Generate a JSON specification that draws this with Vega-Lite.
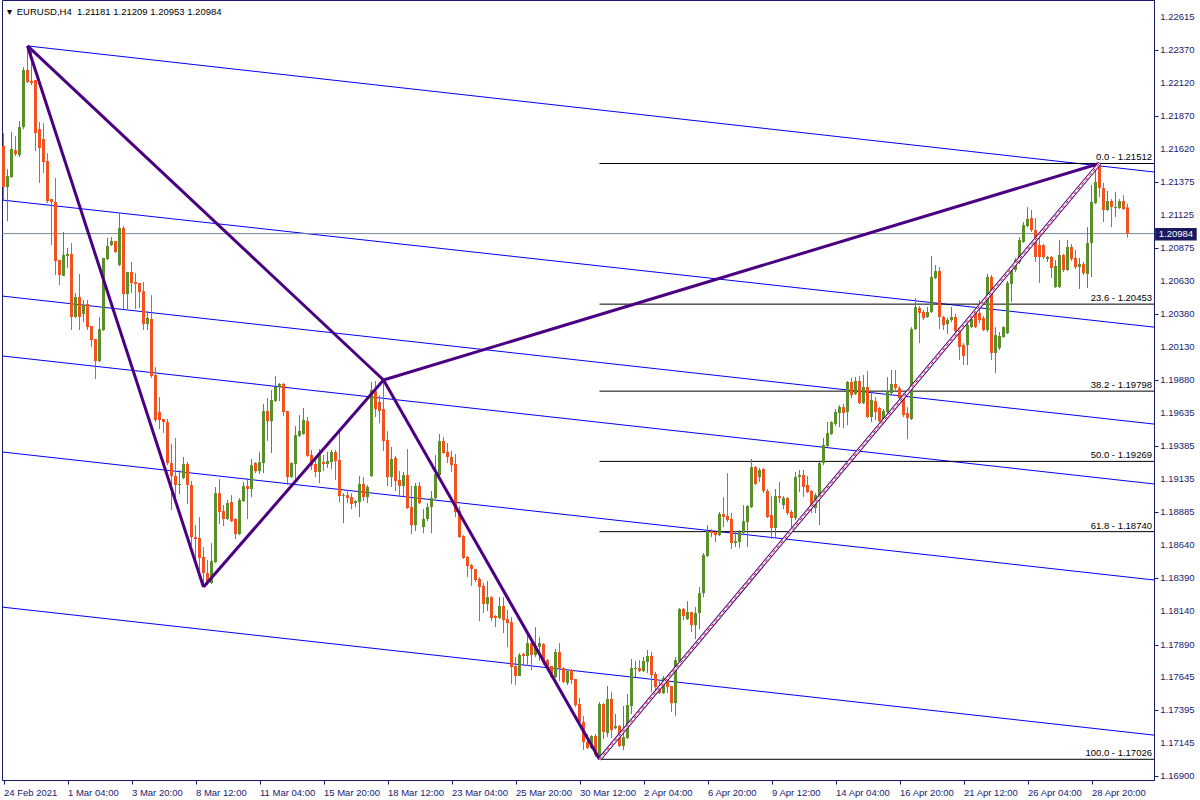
{
"$schema":"https://vega.github.io/schema/vega-lite/v6.json",
"width":1152,"height":780,
"autosize":{"type":"none"},
"padding":{"left":2,"top":0,"right":46,"bottom":20},
"background":"white",
"title":{"text":"▾\u00a0\u00a0EURUSD,H4\u00a0\u00a01.21181 1.21209 1.20953 1.20984","anchor":"start","offset":-14,"baseline":"alphabetic","dx":5,"dy":10,"font":"Liberation Sans","fontSize":9.5,"fontWeight":"normal","color":"#000000"},
"config":{"view":{"stroke":"#191970","strokeWidth":1},"axis":{"grid":false,"title":null,"domainColor":"#191970","tickColor":"#191970","labelColor":"#191970","labelFont":"Liberation Sans","labelFontSize":9.5,"tickSize":4,"labelOverlap":false,"labelFlush":false}},
"datasets":{
"yt":[{"v":1.22615},{"v":1.2237},{"v":1.2212},{"v":1.2187},{"v":1.2162},{"v":1.21375},{"v":1.21125},{"v":1.20875},{"v":1.2063},{"v":1.2038},{"v":1.2013},{"v":1.1988},{"v":1.19635},{"v":1.19385},{"v":1.19135},{"v":1.18885},{"v":1.1864},{"v":1.1839},{"v":1.1814},{"v":1.1789},{"v":1.17645},{"v":1.17395},{"v":1.17145},{"v":1.169}],
"lines":[{"id":"A","i":6,"p":1.22397},{"id":"A","i":287.625,"p":1.21448},{"id":"B","i":-0.375,"p":1.21237},{"id":"B","i":287.625,"p":1.2028},{"id":"C","i":-0.375,"p":1.20514},{"id":"C","i":287.625,"p":1.1955},{"id":"D","i":-0.375,"p":1.20063},{"id":"D","i":287.625,"p":1.19099},{"id":"E","i":-0.375,"p":1.1934},{"id":"E","i":287.625,"p":1.18376},{"id":"F","i":-0.375,"p":1.18172},{"id":"F","i":287.625,"p":1.17208}],
"zig":[{"seg":"XA","k":0,"i":6,"p":1.22397},{"seg":"XA","k":1,"i":50,"p":1.18323},{"seg":"XB","k":0,"i":6,"p":1.22397},{"seg":"XB","k":1,"i":95,"p":1.19882},{"seg":"AB","k":0,"i":50,"p":1.18323},{"seg":"AB","k":1,"i":95,"p":1.19882},{"seg":"BC","k":0,"i":95,"p":1.19882},{"seg":"BC","k":1,"i":149,"p":1.17026},{"seg":"BD","k":0,"i":95,"p":1.19882},{"seg":"BD","k":1,"i":274,"p":1.21512}],
"cd":[{"i":149,"p":1.17026},{"i":274,"p":1.21512}],
"fib":[{"lv":"0.0 - 1.21512","p":1.21512,"i0":149,"i1":287.625},{"lv":"23.6 - 1.20453","p":1.20453,"i0":149,"i1":287.625},{"lv":"38.2 - 1.19798","p":1.19798,"i0":149,"i1":287.625},{"lv":"50.0 - 1.19269","p":1.19269,"i0":149,"i1":287.625},{"lv":"61.8 - 1.18740","p":1.1874,"i0":149,"i1":287.625},{"lv":"100.0 - 1.17026","p":1.17026,"i0":149,"i1":287.625}],
"candles":[
{"i":0,"o":1.21644,"h":1.21741,"l":1.21237,"c":1.21335},
{"i":1,"o":1.21335,"h":1.2147,"l":1.21078,"c":1.21418},
{"i":2,"o":1.2141,"h":1.21749,"l":1.21403,"c":1.21621},
{"i":3,"o":1.21613,"h":1.21719,"l":1.21568,"c":1.21583},
{"i":4,"o":1.21575,"h":1.21831,"l":1.2156,"c":1.21786},
{"i":5,"o":1.21786,"h":1.22238,"l":1.21771,"c":1.22216},
{"i":6,"o":1.22216,"h":1.22397,"l":1.22118,"c":1.22126},
{"i":7,"o":1.22133,"h":1.22367,"l":1.22103,"c":1.22118},
{"i":8,"o":1.22141,"h":1.22141,"l":1.21605,"c":1.21741},
{"i":9,"o":1.21771,"h":1.21824,"l":1.21365,"c":1.21629},
{"i":10,"o":1.21696,"h":1.21816,"l":1.2144,"c":1.21523},
{"i":11,"o":1.2153,"h":1.2159,"l":1.21214,"c":1.21229},
{"i":12,"o":1.21244,"h":1.21244,"l":1.20898,"c":1.21222},
{"i":13,"o":1.21222,"h":1.21403,"l":1.20672,"c":1.20777},
{"i":14,"o":1.20785,"h":1.20785,"l":1.20597,"c":1.20672},
{"i":15,"o":1.20665,"h":1.20996,"l":1.20665,"c":1.20823},
{"i":16,"o":1.20816,"h":1.20876,"l":1.20725,"c":1.20831},
{"i":17,"o":1.20831,"h":1.20913,"l":1.20258,"c":1.20356},
{"i":18,"o":1.20356,"h":1.20536,"l":1.20349,"c":1.20506},
{"i":19,"o":1.20506,"h":1.2068,"l":1.20258,"c":1.20356},
{"i":20,"o":1.20379,"h":1.20484,"l":1.20318,"c":1.20446},
{"i":21,"o":1.20454,"h":1.20484,"l":1.20258,"c":1.2028},
{"i":22,"o":1.20288,"h":1.20288,"l":1.2013,"c":1.20183},
{"i":23,"o":1.2019,"h":1.2019,"l":1.19889,"c":1.20024},
{"i":24,"o":1.20024,"h":1.20356,"l":1.20017,"c":1.20265},
{"i":25,"o":1.20258,"h":1.20801,"l":1.2025,"c":1.20801},
{"i":26,"o":1.20793,"h":1.20951,"l":1.20785,"c":1.20891},
{"i":27,"o":1.20898,"h":1.20958,"l":1.20891,"c":1.20928},
{"i":28,"o":1.20928,"h":1.20928,"l":1.20838,"c":1.20846},
{"i":29,"o":1.20747,"h":1.21139,"l":1.2074,"c":1.21026},
{"i":30,"o":1.21026,"h":1.21041,"l":1.20416,"c":1.20529},
{"i":31,"o":1.20529,"h":1.20695,"l":1.20416,"c":1.20695},
{"i":32,"o":1.20695,"h":1.2077,"l":1.20536,"c":1.20612},
{"i":33,"o":1.2062,"h":1.20687,"l":1.20416,"c":1.20605},
{"i":34,"o":1.20612,"h":1.20612,"l":1.20424,"c":1.20544},
{"i":35,"o":1.20551,"h":1.2062,"l":1.20258,"c":1.20303},
{"i":36,"o":1.20303,"h":1.20401,"l":1.20258,"c":1.20349},
{"i":37,"o":1.20341,"h":1.20521,"l":1.19897,"c":1.19912},
{"i":38,"o":1.19919,"h":1.19979,"l":1.19565,"c":1.1958},
{"i":39,"o":1.19641,"h":1.19753,"l":1.19512,"c":1.1958},
{"i":40,"o":1.19588,"h":1.19588,"l":1.19482,"c":1.19565},
{"i":41,"o":1.19565,"h":1.19588,"l":1.19241,"c":1.19256},
{"i":42,"o":1.19256,"h":1.194,"l":1.18903,"c":1.19159},
{"i":43,"o":1.19159,"h":1.19445,"l":1.1897,"c":1.19091},
{"i":44,"o":1.19091,"h":1.19204,"l":1.19023,"c":1.19099},
{"i":45,"o":1.19144,"h":1.19302,"l":1.19136,"c":1.19249},
{"i":46,"o":1.19249,"h":1.19264,"l":1.18948,"c":1.19091},
{"i":47,"o":1.19091,"h":1.19121,"l":1.18639,"c":1.18699},
{"i":48,"o":1.18699,"h":1.18789,"l":1.18526,"c":1.18684},
{"i":49,"o":1.18692,"h":1.1885,"l":1.18451,"c":1.18542},
{"i":50,"o":1.18549,"h":1.18624,"l":1.18323,"c":1.18428},
{"i":51,"o":1.18428,"h":1.18526,"l":1.18338,"c":1.18353},
{"i":52,"o":1.18353,"h":1.18654,"l":1.18346,"c":1.18518},
{"i":53,"o":1.18511,"h":1.19076,"l":1.18503,"c":1.1903},
{"i":54,"o":1.1903,"h":1.19136,"l":1.18797,"c":1.18888},
{"i":55,"o":1.18895,"h":1.1894,"l":1.18782,"c":1.18835},
{"i":56,"o":1.18835,"h":1.18978,"l":1.18827,"c":1.18955},
{"i":57,"o":1.18963,"h":1.19015,"l":1.18812,"c":1.18819},
{"i":58,"o":1.18835,"h":1.18843,"l":1.18684,"c":1.18722},
{"i":59,"o":1.18722,"h":1.18993,"l":1.18714,"c":1.18978},
{"i":60,"o":1.1897,"h":1.19114,"l":1.18963,"c":1.19084},
{"i":61,"o":1.19084,"h":1.19144,"l":1.18835,"c":1.19061},
{"i":62,"o":1.19061,"h":1.19287,"l":1.19,"c":1.19241},
{"i":63,"o":1.19256,"h":1.19264,"l":1.19181,"c":1.19196},
{"i":64,"o":1.19196,"h":1.1934,"l":1.19174,"c":1.19264},
{"i":65,"o":1.19256,"h":1.19701,"l":1.19181,"c":1.19648},
{"i":66,"o":1.19648,"h":1.19746,"l":1.19422,"c":1.19572},
{"i":67,"o":1.19572,"h":1.19806,"l":1.19332,"c":1.19731},
{"i":68,"o":1.19723,"h":1.19912,"l":1.19716,"c":1.19829},
{"i":69,"o":1.19829,"h":1.19859,"l":1.19723,"c":1.19852},
{"i":70,"o":1.19852,"h":1.19859,"l":1.19611,"c":1.19641},
{"i":71,"o":1.19648,"h":1.19648,"l":1.19091,"c":1.19151},
{"i":72,"o":1.19151,"h":1.19264,"l":1.19144,"c":1.19256},
{"i":73,"o":1.19249,"h":1.19535,"l":1.19114,"c":1.19467},
{"i":74,"o":1.1946,"h":1.19618,"l":1.19453,"c":1.19498},
{"i":75,"o":1.19475,"h":1.19671,"l":1.19467,"c":1.1958},
{"i":76,"o":1.19572,"h":1.19603,"l":1.19302,"c":1.1931},
{"i":77,"o":1.19317,"h":1.19355,"l":1.19204,"c":1.19241},
{"i":78,"o":1.19249,"h":1.19302,"l":1.19151,"c":1.19189},
{"i":79,"o":1.19189,"h":1.19362,"l":1.19106,"c":1.19332},
{"i":80,"o":1.19264,"h":1.19317,"l":1.19196,"c":1.19249},
{"i":81,"o":1.19249,"h":1.1934,"l":1.19219,"c":1.19271},
{"i":82,"o":1.19264,"h":1.19355,"l":1.19211,"c":1.1934},
{"i":83,"o":1.1934,"h":1.19355,"l":1.19129,"c":1.19271},
{"i":84,"o":1.19279,"h":1.19512,"l":1.18963,"c":1.19008},
{"i":85,"o":1.19008,"h":1.1903,"l":1.18804,"c":1.19015},
{"i":86,"o":1.19015,"h":1.19053,"l":1.18955,"c":1.18993},
{"i":87,"o":1.19,"h":1.1903,"l":1.1891,"c":1.18948},
{"i":88,"o":1.18955,"h":1.18978,"l":1.18925,"c":1.1897},
{"i":89,"o":1.18963,"h":1.19159,"l":1.1885,"c":1.19099},
{"i":90,"o":1.19099,"h":1.19151,"l":1.1897,"c":1.19},
{"i":91,"o":1.19,"h":1.19091,"l":1.18955,"c":1.19076},
{"i":92,"o":1.19159,"h":1.19867,"l":1.19151,"c":1.19806},
{"i":93,"o":1.19798,"h":1.19874,"l":1.19603,"c":1.19663},
{"i":94,"o":1.19716,"h":1.19768,"l":1.19557,"c":1.19648},
{"i":95,"o":1.19663,"h":1.19882,"l":1.19347,"c":1.19422},
{"i":96,"o":1.1943,"h":1.19497,"l":1.19084,"c":1.19151},
{"i":97,"o":1.19151,"h":1.19377,"l":1.19076,"c":1.19287},
{"i":98,"o":1.19295,"h":1.1931,"l":1.19046,"c":1.19121},
{"i":99,"o":1.19129,"h":1.19196,"l":1.19008,"c":1.19084},
{"i":100,"o":1.19084,"h":1.19189,"l":1.19008,"c":1.19166},
{"i":101,"o":1.19166,"h":1.19362,"l":1.1891,"c":1.18918},
{"i":102,"o":1.18925,"h":1.19084,"l":1.18722,"c":1.18789},
{"i":103,"o":1.18789,"h":1.19106,"l":1.18744,"c":1.19084},
{"i":104,"o":1.19084,"h":1.19114,"l":1.18948,"c":1.18955},
{"i":105,"o":1.18774,"h":1.1891,"l":1.18729,"c":1.18835},
{"i":106,"o":1.18835,"h":1.18955,"l":1.18819,"c":1.18925},
{"i":107,"o":1.18925,"h":1.19046,"l":1.18729,"c":1.18993},
{"i":108,"o":1.18993,"h":1.19317,"l":1.18985,"c":1.19174},
{"i":109,"o":1.19166,"h":1.19475,"l":1.19159,"c":1.19422},
{"i":110,"o":1.19422,"h":1.19453,"l":1.19325,"c":1.19332},
{"i":111,"o":1.1934,"h":1.19407,"l":1.19256,"c":1.19302},
{"i":112,"o":1.19302,"h":1.19347,"l":1.19189,"c":1.19241},
{"i":113,"o":1.19249,"h":1.19325,"l":1.1885,"c":1.18888},
{"i":114,"o":1.18895,"h":1.18933,"l":1.18692,"c":1.18699},
{"i":115,"o":1.18707,"h":1.18714,"l":1.18534,"c":1.18542},
{"i":116,"o":1.18549,"h":1.18557,"l":1.18398,"c":1.18481},
{"i":117,"o":1.18488,"h":1.18496,"l":1.18331,"c":1.18458},
{"i":118,"o":1.18458,"h":1.18458,"l":1.18361,"c":1.18376},
{"i":119,"o":1.18383,"h":1.18398,"l":1.18066,"c":1.18323},
{"i":120,"o":1.18331,"h":1.18353,"l":1.18127,"c":1.18195},
{"i":121,"o":1.18195,"h":1.18368,"l":1.18142,"c":1.18247},
{"i":122,"o":1.18247,"h":1.18255,"l":1.18066,"c":1.1809},
{"i":123,"o":1.18105,"h":1.18112,"l":1.18021,"c":1.1809},
{"i":124,"o":1.1809,"h":1.18247,"l":1.18082,"c":1.1818},
{"i":125,"o":1.1818,"h":1.18247,"l":1.17976,"c":1.18074},
{"i":126,"o":1.18082,"h":1.1815,"l":1.17871,"c":1.18051},
{"i":127,"o":1.18059,"h":1.18097,"l":1.17593,"c":1.1772},
{"i":128,"o":1.17728,"h":1.17796,"l":1.17585,"c":1.17653},
{"i":129,"o":1.17653,"h":1.17826,"l":1.17653,"c":1.17811},
{"i":130,"o":1.17819,"h":1.17826,"l":1.17728,"c":1.17804},
{"i":131,"o":1.17804,"h":1.17962,"l":1.17728,"c":1.17901},
{"i":132,"o":1.17901,"h":1.17924,"l":1.17698,"c":1.17811},
{"i":133,"o":1.17811,"h":1.18021,"l":1.17796,"c":1.17879},
{"i":134,"o":1.17871,"h":1.17946,"l":1.17766,"c":1.17901},
{"i":135,"o":1.17894,"h":1.17901,"l":1.17736,"c":1.17751},
{"i":136,"o":1.17773,"h":1.17781,"l":1.17698,"c":1.1772},
{"i":137,"o":1.17728,"h":1.17728,"l":1.17638,"c":1.17645},
{"i":138,"o":1.17645,"h":1.17856,"l":1.17638,"c":1.17834},
{"i":139,"o":1.17834,"h":1.17901,"l":1.17615,"c":1.17713},
{"i":140,"o":1.17713,"h":1.1772,"l":1.176,"c":1.17608},
{"i":141,"o":1.176,"h":1.17705,"l":1.17585,"c":1.1769},
{"i":142,"o":1.17698,"h":1.17705,"l":1.17593,"c":1.17623},
{"i":143,"o":1.1763,"h":1.1763,"l":1.17419,"c":1.17434},
{"i":144,"o":1.17442,"h":1.17487,"l":1.17298,"c":1.17306},
{"i":145,"o":1.17306,"h":1.17352,"l":1.17096,"c":1.17156},
{"i":146,"o":1.17156,"h":1.17216,"l":1.17103,"c":1.17111},
{"i":147,"o":1.17111,"h":1.17208,"l":1.17103,"c":1.17201},
{"i":148,"o":1.17201,"h":1.17216,"l":1.17043,"c":1.17058},
{"i":149,"o":1.17051,"h":1.17457,"l":1.17026,"c":1.17442},
{"i":150,"o":1.17442,"h":1.17449,"l":1.17178,"c":1.17231},
{"i":151,"o":1.17223,"h":1.17578,"l":1.17193,"c":1.1748},
{"i":152,"o":1.1748,"h":1.17532,"l":1.17186,"c":1.17246},
{"i":153,"o":1.17261,"h":1.17367,"l":1.17253,"c":1.17276},
{"i":154,"o":1.17276,"h":1.17284,"l":1.17118,"c":1.17126},
{"i":155,"o":1.17126,"h":1.17427,"l":1.17096,"c":1.17193},
{"i":156,"o":1.17186,"h":1.17517,"l":1.17178,"c":1.17434},
{"i":157,"o":1.17427,"h":1.17781,"l":1.17367,"c":1.17713},
{"i":158,"o":1.17705,"h":1.17766,"l":1.17645,"c":1.17713},
{"i":159,"o":1.17713,"h":1.17773,"l":1.17683,"c":1.1769},
{"i":160,"o":1.1769,"h":1.17796,"l":1.17683,"c":1.17766},
{"i":161,"o":1.17758,"h":1.17849,"l":1.17675,"c":1.17804},
{"i":162,"o":1.17804,"h":1.17834,"l":1.17532,"c":1.1766},
{"i":163,"o":1.17668,"h":1.17683,"l":1.17517,"c":1.1757},
{"i":164,"o":1.17577,"h":1.17623,"l":1.17517,"c":1.17524},
{"i":165,"o":1.17524,"h":1.17653,"l":1.17517,"c":1.17638},
{"i":166,"o":1.17638,"h":1.1766,"l":1.17524,"c":1.1757},
{"i":167,"o":1.17577,"h":1.17577,"l":1.17382,"c":1.17449},
{"i":168,"o":1.17449,"h":1.17796,"l":1.17352,"c":1.17773},
{"i":169,"o":1.17766,"h":1.18165,"l":1.17758,"c":1.18157},
{"i":170,"o":1.18157,"h":1.18165,"l":1.18074,"c":1.18105},
{"i":171,"o":1.18082,"h":1.18217,"l":1.18074,"c":1.18135},
{"i":172,"o":1.18135,"h":1.18135,"l":1.17984,"c":1.18036},
{"i":173,"o":1.18036,"h":1.18172,"l":1.17931,"c":1.18127},
{"i":174,"o":1.18127,"h":1.18323,"l":1.18006,"c":1.18277},
{"i":175,"o":1.18277,"h":1.18579,"l":1.18247,"c":1.18564},
{"i":176,"o":1.18557,"h":1.18789,"l":1.18549,"c":1.18744},
{"i":177,"o":1.18744,"h":1.18759,"l":1.18699,"c":1.18729},
{"i":178,"o":1.18737,"h":1.18752,"l":1.18662,"c":1.18714},
{"i":179,"o":1.18714,"h":1.18888,"l":1.18707,"c":1.18873},
{"i":180,"o":1.18873,"h":1.19,"l":1.18774,"c":1.1885},
{"i":181,"o":1.18858,"h":1.19181,"l":1.18812,"c":1.18827},
{"i":182,"o":1.18835,"h":1.1888,"l":1.18609,"c":1.18654},
{"i":183,"o":1.18654,"h":1.18744,"l":1.18624,"c":1.18669},
{"i":184,"o":1.18662,"h":1.18752,"l":1.18617,"c":1.18737},
{"i":185,"o":1.18729,"h":1.1894,"l":1.18714,"c":1.18819},
{"i":186,"o":1.18812,"h":1.1894,"l":1.18624,"c":1.18933},
{"i":187,"o":1.18925,"h":1.19287,"l":1.18918,"c":1.19226},
{"i":188,"o":1.19226,"h":1.19234,"l":1.19091,"c":1.19099},
{"i":189,"o":1.19151,"h":1.19219,"l":1.19114,"c":1.19204},
{"i":190,"o":1.19211,"h":1.19219,"l":1.1903,"c":1.19046},
{"i":191,"o":1.19046,"h":1.19061,"l":1.18843,"c":1.1885},
{"i":192,"o":1.18865,"h":1.19008,"l":1.18684,"c":1.18767},
{"i":193,"o":1.18767,"h":1.19061,"l":1.18699,"c":1.19008},
{"i":194,"o":1.19008,"h":1.19114,"l":1.18955,"c":1.18993},
{"i":195,"o":1.1894,"h":1.19008,"l":1.1891,"c":1.18993},
{"i":196,"o":1.18993,"h":1.19,"l":1.18865,"c":1.1888},
{"i":197,"o":1.18888,"h":1.18903,"l":1.18737,"c":1.18843},
{"i":198,"o":1.18843,"h":1.19189,"l":1.18827,"c":1.19151},
{"i":199,"o":1.19151,"h":1.19204,"l":1.19038,"c":1.19166},
{"i":200,"o":1.19166,"h":1.19204,"l":1.19,"c":1.19076},
{"i":201,"o":1.19091,"h":1.19159,"l":1.1903,"c":1.19038},
{"i":202,"o":1.19046,"h":1.19053,"l":1.1888,"c":1.18918},
{"i":203,"o":1.18918,"h":1.1903,"l":1.1888,"c":1.19015},
{"i":204,"o":1.19008,"h":1.19264,"l":1.18789,"c":1.19256},
{"i":205,"o":1.19256,"h":1.19445,"l":1.19241,"c":1.19392},
{"i":206,"o":1.19385,"h":1.19565,"l":1.19377,"c":1.19482},
{"i":207,"o":1.19475,"h":1.19572,"l":1.19467,"c":1.19565},
{"i":208,"o":1.1955,"h":1.19663,"l":1.19535,"c":1.19641},
{"i":209,"o":1.19633,"h":1.19693,"l":1.19527,"c":1.19678},
{"i":210,"o":1.19678,"h":1.19701,"l":1.1952,"c":1.19633},
{"i":211,"o":1.19641,"h":1.19874,"l":1.19542,"c":1.19867},
{"i":212,"o":1.19867,"h":1.19897,"l":1.19746,"c":1.19768},
{"i":213,"o":1.19776,"h":1.19904,"l":1.19768,"c":1.19874},
{"i":214,"o":1.19874,"h":1.19912,"l":1.19701,"c":1.19708},
{"i":215,"o":1.19708,"h":1.19919,"l":1.19701,"c":1.19829},
{"i":216,"o":1.19829,"h":1.19949,"l":1.19595,"c":1.19603},
{"i":217,"o":1.19603,"h":1.19791,"l":1.19565,"c":1.19731},
{"i":218,"o":1.19723,"h":1.19753,"l":1.1958,"c":1.19641},
{"i":219,"o":1.19671,"h":1.19678,"l":1.19565,"c":1.19572},
{"i":220,"o":1.19572,"h":1.19663,"l":1.19557,"c":1.19648},
{"i":221,"o":1.19641,"h":1.19904,"l":1.19633,"c":1.19791},
{"i":222,"o":1.19783,"h":1.19957,"l":1.19768,"c":1.19852},
{"i":223,"o":1.19852,"h":1.19957,"l":1.19806,"c":1.19821},
{"i":224,"o":1.19821,"h":1.19836,"l":1.19693,"c":1.19746},
{"i":225,"o":1.19753,"h":1.19783,"l":1.19603,"c":1.19618},
{"i":226,"o":1.19633,"h":1.19678,"l":1.19437,"c":1.19595},
{"i":227,"o":1.19588,"h":1.2028,"l":1.1958,"c":1.20265},
{"i":228,"o":1.20265,"h":1.20499,"l":1.20258,"c":1.20431},
{"i":229,"o":1.20424,"h":1.20439,"l":1.2016,"c":1.20386},
{"i":230,"o":1.20394,"h":1.20409,"l":1.20333,"c":1.20349},
{"i":231,"o":1.20356,"h":1.20431,"l":1.20349,"c":1.20394},
{"i":232,"o":1.20394,"h":1.20816,"l":1.20386,"c":1.20657},
{"i":233,"o":1.2065,"h":1.20747,"l":1.20642,"c":1.20702},
{"i":234,"o":1.20702,"h":1.20732,"l":1.20265,"c":1.20356},
{"i":235,"o":1.20356,"h":1.20364,"l":1.20258,"c":1.20296},
{"i":236,"o":1.20303,"h":1.20349,"l":1.20228,"c":1.20333},
{"i":237,"o":1.20333,"h":1.20431,"l":1.20318,"c":1.20356},
{"i":238,"o":1.20356,"h":1.20379,"l":1.20198,"c":1.2025},
{"i":239,"o":1.20273,"h":1.2028,"l":1.20032,"c":1.2013},
{"i":240,"o":1.20145,"h":1.2016,"l":1.19994,"c":1.20062},
{"i":241,"o":1.20145,"h":1.20349,"l":1.19994,"c":1.20296},
{"i":242,"o":1.2028,"h":1.20356,"l":1.20273,"c":1.20341},
{"i":243,"o":1.20386,"h":1.20431,"l":1.20273,"c":1.2028},
{"i":244,"o":1.20386,"h":1.20484,"l":1.2031,"c":1.20333},
{"i":245,"o":1.20349,"h":1.20364,"l":1.2025,"c":1.20258},
{"i":246,"o":1.20258,"h":1.2068,"l":1.20243,"c":1.20658},
{"i":247,"o":1.20658,"h":1.20672,"l":1.20032,"c":1.20085},
{"i":248,"o":1.20085,"h":1.2028,"l":1.19934,"c":1.2022},
{"i":249,"o":1.20123,"h":1.20243,"l":1.20108,"c":1.20213},
{"i":250,"o":1.20205,"h":1.20288,"l":1.20198,"c":1.2028},
{"i":251,"o":1.20235,"h":1.20627,"l":1.20228,"c":1.20612},
{"i":252,"o":1.20605,"h":1.20725,"l":1.20469,"c":1.20717},
{"i":253,"o":1.2071,"h":1.20801,"l":1.20695,"c":1.20785},
{"i":254,"o":1.2077,"h":1.20958,"l":1.20755,"c":1.20936},
{"i":255,"o":1.20921,"h":1.21071,"l":1.20913,"c":1.21048},
{"i":256,"o":1.21041,"h":1.21184,"l":1.21033,"c":1.21094},
{"i":257,"o":1.21101,"h":1.21162,"l":1.20996,"c":1.21011},
{"i":258,"o":1.21011,"h":1.21101,"l":1.2077,"c":1.20808},
{"i":259,"o":1.20898,"h":1.20973,"l":1.20612,"c":1.20808},
{"i":260,"o":1.20898,"h":1.20906,"l":1.20793,"c":1.20808},
{"i":261,"o":1.20793,"h":1.20816,"l":1.2077,"c":1.20808},
{"i":262,"o":1.20808,"h":1.20816,"l":1.2065,"c":1.20725},
{"i":263,"o":1.20582,"h":1.20785,"l":1.20574,"c":1.2074},
{"i":264,"o":1.20582,"h":1.20936,"l":1.20574,"c":1.20823},
{"i":265,"o":1.20823,"h":1.20831,"l":1.20695,"c":1.2071},
{"i":266,"o":1.2071,"h":1.20936,"l":1.20702,"c":1.20883},
{"i":267,"o":1.20883,"h":1.20906,"l":1.20777,"c":1.20793},
{"i":268,"o":1.20801,"h":1.20861,"l":1.20717,"c":1.20732},
{"i":269,"o":1.20732,"h":1.20801,"l":1.20567,"c":1.20755},
{"i":270,"o":1.20755,"h":1.2077,"l":1.20672,"c":1.20687},
{"i":271,"o":1.2068,"h":1.21033,"l":1.20574,"c":1.20913},
{"i":272,"o":1.20913,"h":1.2135,"l":1.20657,"c":1.21222},
{"i":273,"o":1.21214,"h":1.21485,"l":1.21207,"c":1.21373},
{"i":274,"o":1.21493,"h":1.21512,"l":1.21259,"c":1.21327},
{"i":275,"o":1.21327,"h":1.21365,"l":1.21071,"c":1.21162},
{"i":276,"o":1.21162,"h":1.21305,"l":1.21154,"c":1.21229},
{"i":277,"o":1.21229,"h":1.21244,"l":1.21033,"c":1.21184},
{"i":278,"o":1.21177,"h":1.21297,"l":1.21109,"c":1.21184},
{"i":279,"o":1.21177,"h":1.21244,"l":1.21169,"c":1.21229},
{"i":280,"o":1.21229,"h":1.21274,"l":1.21162,"c":1.21169},
{"i":281,"o":1.21181,"h":1.21209,"l":1.20953,"c":1.20984}
]},
"layer":[
{"data":{"name":"lines"},"mark":{"type":"line","color":"#0000ff","strokeWidth":1,"clip":true},
 "encoding":{
  "x":{"field":"i","type":"quantitative","scale":{"domain":[-0.375,287.625],"nice":false,"zero":false,"padding":0},
   "axis":{"orient":"bottom","title":null,"values":[0,16,32,48,64,80,96,112,128,144,160,176,192,208,224,240,256,272],
   "labelExpr":"['24 Feb 2021','1 Mar 04:00','3 Mar 20:00','8 Mar 12:00','11 Mar 04:00','15 Mar 20:00','18 Mar 12:00','23 Mar 04:00','25 Mar 20:00','30 Mar 12:00','2 Apr 04:00','6 Apr 20:00','9 Apr 12:00','14 Apr 04:00','16 Apr 20:00','21 Apr 12:00','26 Apr 04:00','28 Apr 20:00'][round(datum.value/16)]",
   "labelAlign":"left","labelPadding":3,"labelFlush":false,"labelOverlap":false,"tickSize":4}},
  "y":{"field":"p","type":"quantitative","scale":{"domain":[1.1687,1.22743],"nice":false,"zero":false,"padding":0},
   "axis":{"orient":"right","title":null,"values":[1.22615,1.2237,1.2212,1.2187,1.2162,1.21375,1.21125,1.20875,1.2063,1.2038,1.2013,1.1988,1.19635,1.19385,1.19135,1.18885,1.1864,1.1839,1.1814,1.1789,1.17645,1.17395,1.17145,1.169],
   "labels":false,"tickSize":4}},
  "detail":{"field":"id"}}},
{"data":{"values":[{"p":1.20984}]},"mark":{"type":"rule","color":"#778899","strokeWidth":1},"encoding":{"y":{"field":"p","type":"quantitative"}}},
{"data":{"name":"fib"},"mark":{"type":"rule","color":"#000000","strokeWidth":1},"encoding":{"x":{"field":"i0","type":"quantitative"},"x2":{"field":"i1"},"y":{"field":"p","type":"quantitative"}}},
{"data":{"name":"candles"},"mark":{"type":"rule","strokeWidth":1},"encoding":{"x":{"field":"i","type":"quantitative"},"y":{"field":"l","type":"quantitative"},"y2":{"field":"h"},"color":{"condition":{"test":"datum.c > datum.o","value":"#5a8f29"},"value":"#f4511e"}}},
{"data":{"name":"candles"},"mark":{"type":"bar","size":3},"encoding":{"x":{"field":"i","type":"quantitative"},"y":{"field":"o","type":"quantitative"},"y2":{"field":"c"},"color":{"condition":{"test":"datum.c > datum.o","value":"#5a8f29"},"value":"#f4511e"}}},
{"data":{"name":"zig"},"mark":{"type":"line","color":"#4b0082","strokeWidth":3},"encoding":{"x":{"field":"i","type":"quantitative"},"y":{"field":"p","type":"quantitative"},"detail":{"field":"seg"},"order":{"field":"k"}}},
{"data":{"name":"cd"},"mark":{"type":"line","color":"#4b0082","strokeWidth":4},"encoding":{"x":{"field":"i","type":"quantitative"},"y":{"field":"p","type":"quantitative"}}},
{"data":{"name":"cd"},"mark":{"type":"line","color":"#ffffff","strokeWidth":2},"encoding":{"x":{"field":"i","type":"quantitative"},"y":{"field":"p","type":"quantitative"}}},
{"data":{"name":"cd"},"mark":{"type":"line","color":"#e00000","strokeWidth":1,"strokeDash":[3,3]},"encoding":{"x":{"field":"i","type":"quantitative"},"y":{"field":"p","type":"quantitative"}}},
{"data":{"name":"fib"},"mark":{"type":"text","align":"right","baseline":"alphabetic","dx":-2,"dy":-3,"font":"Liberation Sans","fontSize":9.5,"color":"#000000"},"encoding":{"x":{"field":"i1","type":"quantitative"},"y":{"field":"p","type":"quantitative"},"text":{"field":"lv"}}},
{"data":{"name":"yt"},"mark":{"type":"text","align":"left","baseline":"middle","font":"Liberation Sans","fontSize":9.5,"color":"#191970"},"encoding":{"x":{"datum":289.2},"y":{"field":"v","type":"quantitative"},"text":{"field":"v","type":"quantitative","format":".5f"}}},
{"data":{"values":[{"p":1.20984,"t":"1.20984"}]},"mark":{"type":"rect","color":"#191960"},"encoding":{"x":{"datum":287.9},"x2":{"datum":298.3},"y":{"datum":1.21027},"y2":{"datum":1.20932}}},
{"data":{"values":[{"p":1.20984,"t":"1.20984"}]},"mark":{"type":"text","align":"center","baseline":"middle","font":"Liberation Sans","fontSize":9.5,"color":"#ffffff"},"encoding":{"x":{"datum":293.1},"y":{"field":"p","type":"quantitative"},"text":{"field":"t"}}}
]
}
